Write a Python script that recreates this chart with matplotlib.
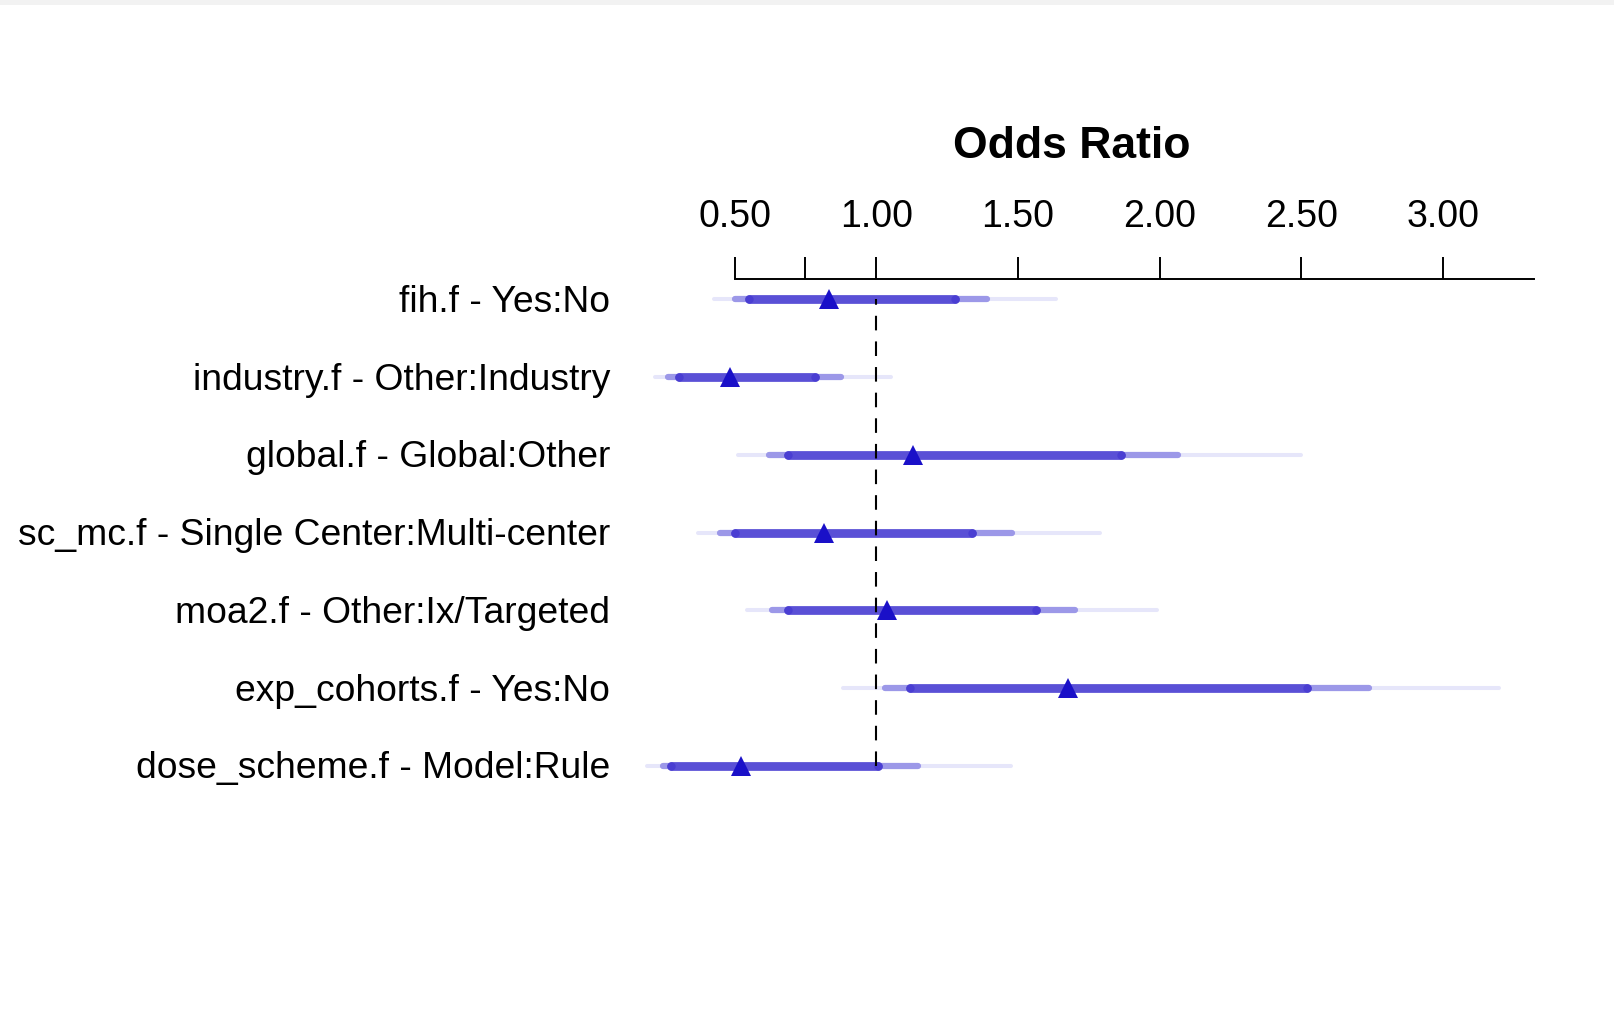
import matplotlib
matplotlib.use("Agg")
import matplotlib.pyplot as plt
from matplotlib.transforms import blended_transform_factory, offset_copy
from matplotlib.patches import Rectangle

plt.rcParams['font.family'] = ['Liberation Sans', 'DejaVu Sans']

# ---- data ----
labels = ["fih.f - Yes:No",
          "industry.f - Other:Industry",
          "global.f - Global:Other",
          "sc_mc.f - Single Center:Multi-center",
          "moa2.f - Other:Ix/Targeted",
          "exp_cohorts.f - Yes:No",
          "dose_scheme.f - Model:Rule"]
odds_ratio = [0.833, 0.482, 1.128, 0.814, 1.037, 1.675, 0.524]
lo_90 = [0.552, 0.305, 0.690, 0.500, 0.690, 1.119, 0.276]
hi_90 = [1.278, 0.782, 1.864, 1.336, 1.565, 2.520, 1.006]
lo_95 = [0.500, 0.265, 0.622, 0.450, 0.633, 1.032, 0.248]
hi_95 = [1.389, 0.875, 2.066, 1.478, 1.700, 2.738, 1.148]
lo_99 = [0.426, 0.220, 0.511, 0.371, 0.542, 0.882, 0.190]
hi_99 = [1.635, 1.053, 2.500, 1.790, 1.990, 3.198, 1.476]
tick_vals = [0.5, 0.75, 1.0, 1.5, 2.0, 2.5, 3.0]
tick_labels = ["0.50", "", "1.00", "1.50", "2.00", "2.50", "3.00"]

W, H = 1614, 1010
fig = plt.figure(figsize=(W / 100, H / 100), dpi=100)
fig.patches.append(Rectangle((0, 1 - 5 / H), 1, 5 / H, transform=fig.transFigure,
                             facecolor="#f2f2f2", edgecolor="none"))

L, R, T, B = 609.4, 1533.7, 278.5, 850
ax = fig.add_axes([L / W, 1 - B / H, (R - L) / W, (B - T) / H])
ax.set_xlim(0.058, 3.32)
ax.set_ylim(-0.0837, 7.27)

n = len(labels)
ys = [n - i for i in range(n)]

levels = [(lo_99, hi_99, "#e6e6fa", 2.9), (lo_95, hi_95, "#9c98e8", 4.5),
          (lo_90, hi_90, "#5a50d6", 6.3)]
for lo, hi, c, lw in levels:
    for y, l, h in zip(ys, lo, hi):
        ax.plot([l, h], [y, y], color=c, lw=lw,
                solid_capstyle='round', zorder=2)
# darker end caps of the 90% bars
for y, l, h in zip(ys, lo_90, hi_90):
    ax.plot([l, h], [y, y], linestyle='none', marker='o', markersize=6.0,
            markeredgewidth=0, color="#4a3ed2", zorder=2.5)

ax.plot([1, 1], [ys[-1], ys[0]], color='black', lw=1.5,
        linestyle=(0, (7.0, 5.3)), zorder=3)

ax.plot(odds_ratio, ys, linestyle='none', marker='^', markersize=15,
        color="#1a10c8", markeredgewidth=0, zorder=4)

trans = blended_transform_factory(ax.transAxes, ax.transData)
trans = offset_copy(trans, fig=fig, x=0, y=-3, units='dots')
for y, lab in zip(ys, labels):
    ax.text(0.001, y, lab, transform=trans, ha='right', va='center', fontsize=26.8)

for s in ['left', 'right', 'bottom']:
    ax.spines[s].set_visible(False)
ax.spines['top'].set_linewidth(1.4)
ax.spines['top'].set_bounds(0.5, 3.32)
ax.set_yticks([])
ax.xaxis.tick_top()
ax.set_xticks(tick_vals)
ax.set_xticklabels(tick_labels)
ax.tick_params(axis='x', direction='out', length=15.5, width=1.4, pad=16,
               labelsize=27, top=True, bottom=False)

fig.text((L + R) / 2 / W, 1 - 147 / H, "Odds Ratio", ha='center', va='center',
         fontsize=32, fontweight='bold')

fig.savefig("out.png", dpi=100)
